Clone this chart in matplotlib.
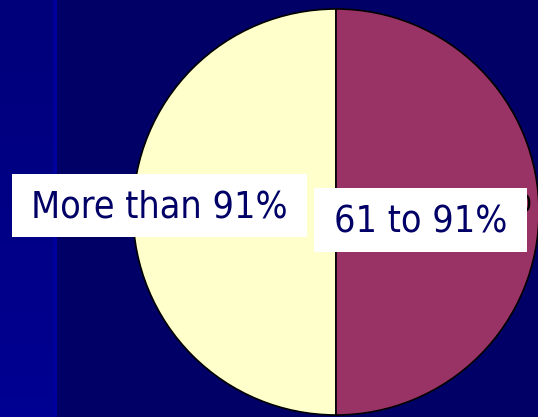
import matplotlib.pyplot as plt
import numpy as np
from matplotlib.patches import Rectangle
from matplotlib.colors import LinearSegmentedColormap

labels = ['More than 91%', '61 to 91%']
values = [50, 50]
colors = ['#FFFFCC', '#993366']

W, H = 538, 417
fig = plt.figure(figsize=(W / 100, H / 100), dpi=100)
ax = fig.add_axes([0, 0, 1, 1])
fig.patch.set_facecolor('#000066')

# left side strip of the slide background
strip = np.linspace(0, 1, 60).reshape(-1, 1) * np.ones((1, 10))
ax.imshow(strip, cmap=LinearSegmentedColormap.from_list('s', ['#00007A', '#000092']),
          extent=(0, 54, H, 0), aspect='auto', zorder=0)
ax.add_patch(Rectangle((53, 0), 4, H, color='#00009C', lw=0, zorder=0))

ax.pie(values, colors=colors, startangle=90, center=(336, 212), radius=203,
       wedgeprops=dict(edgecolor='black', linewidth=1.2), frame=True)
ax.set_xlim(0, W)
ax.set_ylim(H, 0)
ax.set_aspect('auto')
ax.axis('off')

# partly hidden label behind the right box
ax.text(532, 205, '0', color='black', fontsize=17, ha='right', va='center', zorder=3)

boxes = [(12, 174, 295, 63), (314, 188, 213, 64)]
text_pos = [(159, 207), (421, 222)]
for lab, (bx, by, bw, bh), (tx, ty) in zip(labels, boxes, text_pos):
    ax.add_patch(Rectangle((bx, by), bw, bh, facecolor='white', lw=0, zorder=4))
    ax.text(tx, ty, lab, color='#000066', fontsize=27, family='DejaVu Sans',
            fontstretch='condensed', ha='center', va='center', zorder=5)

fig.savefig('out.png', dpi=100, facecolor=fig.get_facecolor())
